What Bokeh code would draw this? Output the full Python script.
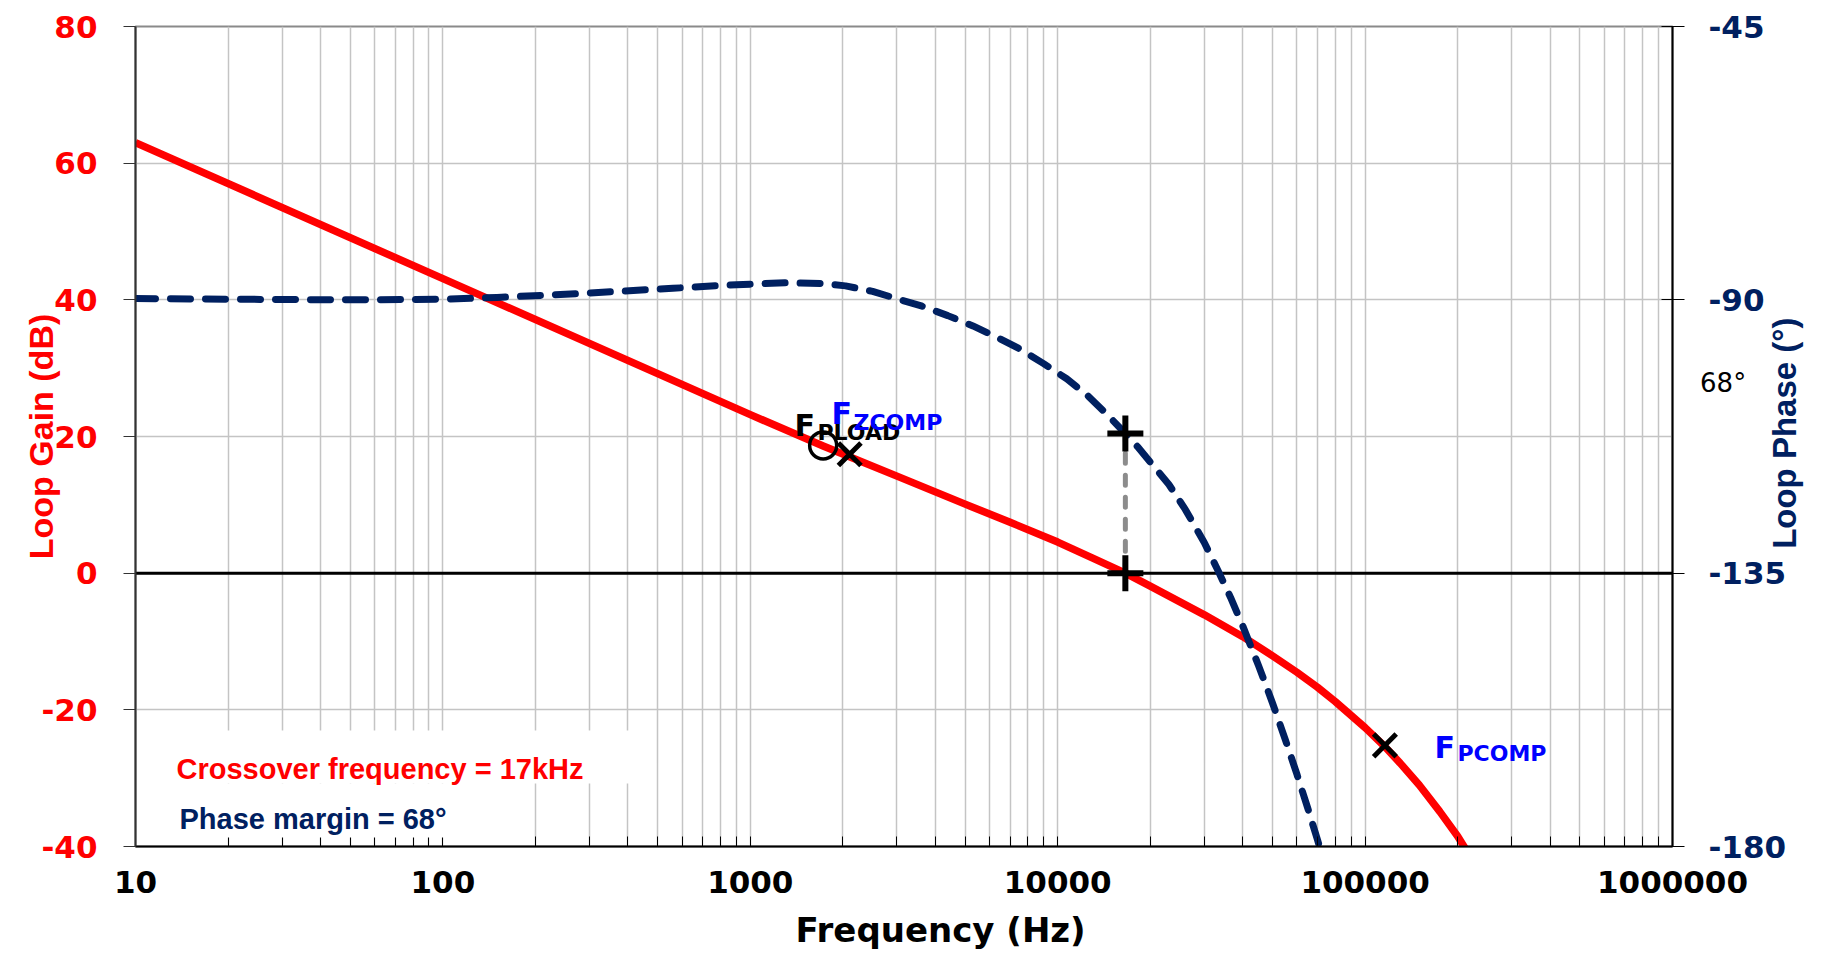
import math
from bokeh.plotting import figure
from bokeh.models import (Range1d, LinearAxis, FixedTicker, Label, BoxAnnotation,
                          Span, NumeralTickFormatter, Title)
from bokeh.embed import file_html
from bokeh.resources import INLINE

# ---------------- data ----------------
gain_freq = [10, 100, 1000, 1726, 3000, 5000, 7000, 10000, 13000, 16600, 20000,
             30000, 40000, 50000, 60000, 70000, 80000, 100000, 116000, 130000,
             150000, 175000, 200000, 220000]
gain_db = [63.0, 43.1, 23.2, 18.6, 14.2, 10.1, 7.45, 4.55, 2.2, 0.0, -1.9,
           -6.1, -9.3, -12.1, -14.5, -16.7, -18.8, -22.6, -25.4, -27.8,
           -31.0, -34.9, -38.5, -41.5]

phase_freq = [10, 20, 50, 100, 150, 270, 560, 900, 1300, 1700, 2040, 2500, 2990,
              3600, 4390, 5300, 6430, 7600, 9000, 10700, 12600, 14500, 16600,
              18200, 20000, 23000, 26000, 30000, 33400, 36500, 40000, 45000,
              50000, 55000, 60000, 65000, 70000, 72000]
phase_deg = [-89.8, -89.9, -90.0, -89.9, -89.6, -89.0, -88.1, -87.5, -87.2,
             -87.3, -87.7, -88.6, -89.8, -91.0, -92.6, -94.3, -96.3, -98.2,
             -100.5, -103.0, -105.9, -108.9, -112.0, -114.2, -116.7, -120.4,
             -124.5, -130.0, -134.8, -139.0, -143.7, -150.2, -156.4, -162.4,
             -168.1, -173.6, -178.9, -181.0]

crossover_freq = 16600
phase_margin = 68

marker_x_freq = [2105, 116000]       # F_ZCOMP, F_PCOMP
marker_x_gain = [17.4, -25.2]
marker_o_freq = [1726]               # F_PLOAD
marker_o_gain = [18.7]

x_ticks = [10, 100, 1000, 10000, 100000, 1000000]
x_minor = [m * d for d in [10, 100, 1000, 10000, 100000] for m in range(2, 10)]
gain_ticks = [-40, -20, 0, 20, 40, 60, 80]
phase_ticks = [-180, -135, -90, -45]

GAIN_RANGE = (-40, 80)
PHASE_RANGE = (-180, -45)

# ---------------- page geometry helpers (page pixels) ----------------
W, H = 1825, 963
L, R, T, B = 135, 1672, 26, 846


def fx(px):
    return 10 ** (1 + (px - L) / ((R - L) / 5.0))


def gy(py):
    return GAIN_RANGE[1] - (py - T) * (GAIN_RANGE[1] - GAIN_RANGE[0]) / (B - T)


def gain_to_phase(g):
    return PHASE_RANGE[0] + (g - GAIN_RANGE[0]) * (PHASE_RANGE[1] - PHASE_RANGE[0]) / (GAIN_RANGE[1] - GAIN_RANGE[0])


def phase_to_gain(ph):
    return GAIN_RANGE[0] + (ph - PHASE_RANGE[0]) * (GAIN_RANGE[1] - GAIN_RANGE[0]) / (PHASE_RANGE[1] - PHASE_RANGE[0])


RED = "#FF0000"
NAVY = "#002060"
BLUE = "#0000FF"
GRID = "#c4c4c4"

p = figure(width=W, height=H, x_axis_type="log",
           x_range=Range1d(10, 1e6), y_range=Range1d(*GAIN_RANGE),
           output_backend="svg", toolbar_location=None,
           min_border_left=L, min_border_right=W - R,
           min_border_top=T, min_border_bottom=H - B)
p.outline_line_color = "#8a8a8a"
p.outline_line_width = 2
p.background_fill_color = "white"
p.border_fill_color = "white"

# x axis
xt = FixedTicker(ticks=x_ticks, minor_ticks=x_minor)
p.xaxis.ticker = xt
p.xgrid.ticker = xt
p.xaxis.formatter = NumeralTickFormatter(format="0")
p.xaxis.axis_line_color = "black"
p.xaxis.axis_line_width = 2
p.xaxis.major_tick_in = 10
p.xaxis.major_tick_out = 0
p.xaxis.minor_tick_in = 10
p.xaxis.minor_tick_out = 0
p.xaxis.major_tick_line_color = "black"
p.xaxis.minor_tick_line_color = "black"
p.xaxis.major_label_text_font = "DejaVu Sans"
p.xaxis.major_label_text_font_style = "bold"
p.xaxis.major_label_text_font_size = "31px"
p.xaxis.major_label_text_color = "black"
p.xaxis.major_label_standoff = 24
p.xgrid.grid_line_color = GRID
p.xgrid.grid_line_width = 1.5
p.xgrid.minor_grid_line_color = GRID
p.xgrid.minor_grid_line_width = 1.5

# x title (below, placed right of the frame centre like the reference)
p.add_layout(Title(text="Frequency (Hz)", align="left", offset=660,
                   text_font="DejaVu Sans", text_font_style="bold",
                   text_font_size="34px", text_color="black", standoff=25),
             "below")

# left axis (gain)
yt = FixedTicker(ticks=gain_ticks)
p.yaxis.ticker = yt
p.ygrid.ticker = yt
p.yaxis.major_label_overrides = {t: str(t) for t in gain_ticks}
p.yaxis.axis_line_color = "#333333"
p.yaxis.axis_line_width = 2
p.yaxis.major_tick_in = 0
p.yaxis.major_tick_out = 12
p.yaxis.major_tick_line_color = "#333333"
p.yaxis.minor_tick_line_color = None
p.yaxis.major_label_text_font = "DejaVu Sans"
p.yaxis.major_label_text_font_style = "bold"
p.yaxis.major_label_text_font_size = "31px"
p.yaxis.major_label_text_color = RED
p.yaxis.major_label_standoff = 26
p.yaxis.axis_label = "Loop Gain (dB)"
p.yaxis.axis_label_text_font = "Liberation Sans"
p.yaxis.axis_label_text_font_style = "bold"
p.yaxis.axis_label_text_font_size = "34px"
p.yaxis.axis_label_text_color = RED
p.yaxis.axis_label_standoff = -22
p.ygrid.grid_line_color = GRID
p.ygrid.grid_line_width = 1.5

# right axis (phase); its axis label carries the small "68°" note
p.extra_y_ranges = {"phase": Range1d(*PHASE_RANGE)}
ra = LinearAxis(y_range_name="phase", ticker=FixedTicker(ticks=phase_ticks))
ra.major_label_overrides = {t: str(t) for t in phase_ticks}
ra.axis_line_color = "black"
ra.axis_line_width = 2
ra.major_tick_in = 11
ra.major_tick_out = 12
ra.major_tick_line_color = "black"
ra.minor_tick_line_color = None
ra.major_label_text_font = "DejaVu Sans"
ra.major_label_text_font_style = "bold"
ra.major_label_text_font_size = "31px"
ra.major_label_text_color = NAVY
ra.major_label_standoff = 24
ra.axis_label = "68°\n\n\n"
ra.axis_label_text_font = "DejaVu Sans"
ra.axis_label_text_font_style = "normal"
ra.axis_label_text_font_size = "26px"
ra.axis_label_text_color = "black"
ra.axis_label_standoff = -89
ra.axis_label_orientation = "horizontal"
p.add_layout(ra, "right")

# outer right axis: only carries the rotated "Loop Phase (°)" title
title_phase = round(gain_to_phase(gy(547)))
ta = LinearAxis(y_range_name="phase", ticker=FixedTicker(ticks=[title_phase]))
ta.major_label_overrides = {title_phase: "Loop Phase (°)"}
ta.major_label_orientation = math.pi / 2
ta.axis_line_color = None
ta.major_tick_line_color = None
ta.minor_tick_line_color = None
ta.major_tick_out = 0
ta.major_tick_in = 0
ta.major_label_standoff = 35
ta.major_label_text_font = "Liberation Sans"
ta.major_label_text_font_style = "bold"
ta.major_label_text_font_size = "33px"
ta.major_label_text_color = NAVY
p.add_layout(ta, "right")

# zero dB line
p.add_layout(Span(location=0, dimension="width", line_color="black",
                  line_width=3, level="underlay"))

# curves
p.line(gain_freq, gain_db, line_color=RED, line_width=7.5, line_join="round")
p.line(phase_freq, phase_deg, y_range_name="phase", line_color=NAVY,
       line_width=7, line_dash="20 15", line_cap="round", line_join="round")

# crossover / phase margin markers
pm_gain = phase_to_gain(-180 + phase_margin)
p.segment(x0=[crossover_freq], y0=[0], x1=[crossover_freq], y1=[pm_gain],
          line_color="#8c8c8c", line_width=5, line_dash="10 12", line_cap="round")
p.scatter([crossover_freq, crossover_freq], [0, pm_gain], marker="cross",
          size=36, line_width=6, line_color="black")

p.scatter(marker_o_freq, marker_o_gain, marker="circle", size=27,
          fill_color=None, line_color="black", line_width=3.5)
p.scatter(marker_x_freq, marker_x_gain, marker="x", size=32,
          line_color="black", line_width=5)

# white boxes behind the notes
p.add_layout(BoxAnnotation(left=fx(150), right=fx(640), top=gy(730), bottom=gy(783),
                           fill_color="white", fill_alpha=1.0, line_color=None))
p.add_layout(BoxAnnotation(left=fx(150), right=fx(485), top=gy(783), bottom=gy(837),
                           fill_color="white", fill_alpha=1.0, line_color=None))


def lab(text, px, py, color="black", size="28px", font="Liberation Sans",
        style="bold", align="left", baseline="alphabetic", angle=0.0):
    p.add_layout(Label(x=fx(px), y=gy(py), text=text, text_color=color,
                       text_font=font, text_font_style=style,
                       text_font_size=size, text_align=align,
                       text_baseline=baseline, angle=angle))


lab("Crossover frequency = 17kHz", 176, 768, color=RED, size="29px")
lab("Phase margin = 68°", 179, 818, color=NAVY, size="29px")

# pole / zero labels
lab("F", 794, 425, size="30px", font="DejaVu Sans")
lab("PLOAD", 817, 432, size="22px", font="DejaVu Sans")
lab("F", 831, 413, color=BLUE, size="30px", font="DejaVu Sans")
lab("ZCOMP", 853, 422, color=BLUE, size="22px", font="DejaVu Sans")
lab("F", 1434, 747, color=BLUE, size="30px", font="DejaVu Sans")
lab("PCOMP", 1457, 753, color=BLUE, size="22px", font="DejaVu Sans")

open("out.html", "w").write(file_html(p, INLINE))
